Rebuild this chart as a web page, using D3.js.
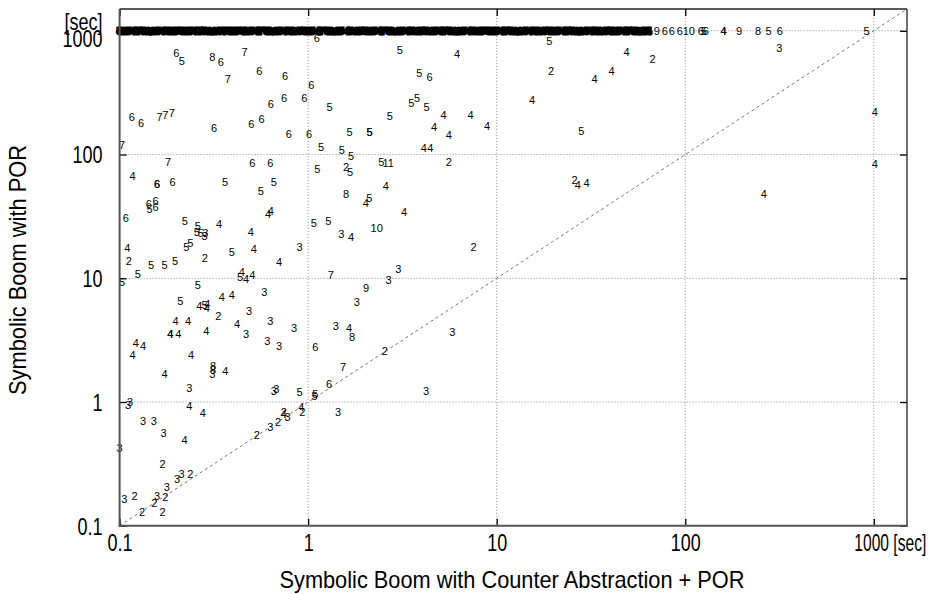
<!DOCTYPE html>
<html>
<head>
<meta charset="utf-8">
<script src="https://cdn.jsdelivr.net/npm/d3@7/dist/d3.min.js"></script>
<style>
    body { margin: 0; background: #fff; }
    svg { display: block; font-family: "Liberation Sans", Arial, Helvetica, sans-serif; }
    .pt { font-size: 11px; text-anchor: middle; fill: #000; }
    .band { font-size: 9px; font-weight: bold; text-anchor: middle; fill: #000; stroke: #000; stroke-width: 2.8px; stroke-linejoin: miter; }
    .grid { stroke: #8a8a8a; stroke-width: 1; stroke-dasharray: 1,2; }
    .diag { stroke: #777; stroke-width: 1; stroke-dasharray: 3,3; fill: none; }
    .axis text { font-size: 24px; fill: #000; }
    .axis line { stroke: #000; stroke-width: 1.3; }
    .title { font-size: 24px; fill: #000; text-anchor: middle; }
</style>
</head>
<body>
<div id="chart"></div>
<script>
// tick values / labels
var tickValues = [0.1, 1, 10, 100, 1000];
var xTickLabels = ["0.1", "1", "10", "100", "1000 [sec]"];
var yTickLabels = ["0.1", "1", "10", "100", "1000"];
var gridValues = [1, 10, 100, 1000];
var limit = 1500;      // top of both log axes
var timeoutY = 1000;   // runs that timed out

// solved instances: [counter abstraction + POR, POR, label]
var points = [
    [0.2, 656, "6"], [0.214, 571, "5"], [0.31, 609, "8"], [0.344, 561, "6"], [0.46, 668, "7"],
    [0.375, 406, "7"], [0.55, 469, "6"], [0.755, 432, "6"], [1.04, 362, "6"], [0.634, 257, "6"],
    [0.746, 284, "6"], [0.953, 286, "6"], [0.116, 202, "6"], [0.13, 179, "6"], [0.163, 202, "7"],
    [0.175, 209, "7"], [0.189, 215, "7"], [0.317, 164, "6"], [0.5, 176, "6"], [0.566, 193, "6"],
    [0.79, 147, "6"], [1.01, 147, "6"], [0.103, 119, "7"], [0.181, 87, "7"], [0.505, 86, "6"],
    [0.63, 85, "6"], [1.11, 867, "6"],
    [0.117, 67, "4"], [0.158, 58, "6"], [0.158, 58, "6"], [0.191, 59.5, "6"], [0.363, 59.5, "5"],
    [0.561, 51, "5"], [0.658, 60, "5"], [0.143, 40, "6"], [0.155, 42.3, "6"], [0.144, 36, "5"],
    [0.155, 37.4, "6"], [0.612, 32.8, "4"], [0.634, 35, "4"], [0.108, 30.5, "6"], [0.222, 29, "5"],
    [0.26, 26.6, "5"], [0.257, 23.6, "5"], [0.27, 23.4, "5"], [0.285, 23, "3"], [0.282, 22, "3"],
    [0.337, 27.4, "4"], [0.497, 23.6, "4"], [1.07, 27.8, "5"], [0.226, 17.8, "5"], [0.237, 19.1, "5"],
    [0.11, 17.6, "4"], [0.283, 14.6, "2"], [0.394, 16.3, "5"], [0.515, 17.3, "4"], [0.9, 18, "3"],
    [0.112, 13.8, "2"], [0.147, 12.9, "5"], [0.173, 12.9, "5"], [0.197, 13.8, "5"], [0.702, 13.5, "4"],
    [0.125, 10.8, "5"], [0.103, 9.3, "5"], [0.445, 11.2, "4"], [0.435, 10.2, "5"], [0.469, 9.85, "4"],
    [0.505, 10.7, "4"], [0.26, 8.8, "5"], [0.585, 7.8, "3"], [0.21, 6.55, "5"], [0.348, 7.05, "4"],
    [0.394, 7.3, "4"], [0.265, 6.0, "4"], [0.282, 6.1, "5"], [0.292, 6.2, "4"], [0.29, 5.7, "4"],
    [0.334, 5.0, "2"], [0.486, 5.4, "3"], [0.198, 4.55, "4"], [0.231, 4.55, "4"], [0.42, 4.3, "4"],
    [0.63, 4.55, "3"], [0.843, 3.96, "3"], [0.186, 3.52, "4"], [0.186, 3.52, "4"], [0.205, 3.53, "4"],
    [0.288, 3.77, "4"], [0.469, 3.54, "3"], [0.607, 3.13, "3"], [0.702, 2.83, "3"], [1.09, 2.8, "6"],
    [0.122, 3.0, "4"], [0.133, 2.83, "4"],
    [0.117, 2.4, "4"], [0.239, 2.38, "4"], [0.313, 1.95, "8"], [0.313, 1.81, "8"], [0.31, 1.68, "3"],
    [0.364, 1.79, "4"], [0.173, 1.68, "4"], [0.234, 1.3, "3"], [0.658, 1.23, "3"], [0.677, 1.27, "3"],
    [0.9, 1.2, "5"], [1.09, 1.15, "5"], [0.1135, 1.0, "3"], [0.111, 0.946, "3"], [0.234, 0.93, "4"],
    [0.276, 0.82, "4"], [0.744, 0.83, "2"], [0.74, 0.8, "4"], [0.777, 0.76, "3"], [0.919, 0.916, "4"],
    [0.93, 0.83, "2"], [0.133, 0.70, "3"], [0.152, 0.70, "3"], [0.171, 0.558, "3"], [0.221, 0.49, "4"],
    [0.63, 0.625, "3"], [0.692, 0.69, "2"], [0.535, 0.54, "2"], [0.1, 0.428, "3"], [0.169, 0.314, "2"],
    [0.202, 0.239, "3"], [0.213, 0.262, "3"], [0.237, 0.261, "2"], [0.178, 0.207, "3"], [0.106, 0.166, "3"],
    [0.12, 0.174, "2"], [0.158, 0.174, "3"], [0.153, 0.152, "2"], [0.175, 0.172, "2"], [0.1315, 0.128, "2"],
    [0.169, 0.128, "2"],
    [3.06, 697, "5"], [6.17, 644, "4"], [3.89, 457, "5"], [4.4, 420, "6"], [1.3, 242, "5"],
    [3.53, 262, "5"], [3.78, 286, "5"], [4.24, 242, "5"], [2.71, 203, "5"], [5.22, 207, "4"],
    [7.26, 208, "4"], [8.9, 169, "4"], [4.66, 166, "4"], [5.57, 143, "4"], [1.66, 151, "5"],
    [2.12, 152, "5"], [2.12, 152, "5"], [1.17, 115, "5"], [1.51, 108, "5"], [1.69, 97, "5"],
    [4.1, 113, "4"], [4.45, 113, "4"], [2.44, 87, "5"], [2.66, 85, "11"], [5.57, 87, "2"],
    [1.12, 76.6, "5"], [1.59, 79.5, "2"], [1.67, 72.5, "5"],
    [1.59, 48, "8"], [2.58, 55.6, "4"], [2.11, 44.7, "5"], [2.02, 40.3, "4"], [3.23, 34.5, "4"],
    [1.28, 29, "5"], [1.5, 22.6, "3"], [1.69, 21.5, "4"], [2.31, 25.4, "10"], [7.53, 18, "2"],
    [1.32, 10.55, "7"], [3.01, 11.8, "3"], [2.67, 9.7, "3"], [2.03, 8.4, "9"], [1.81, 6.46, "3"],
    [1.4, 4.1, "3"], [1.65, 4.0, "4"], [1.71, 3.37, "8"], [5.82, 3.66, "3"],
    [2.55, 2.58, "2"], [1.53, 1.93, "7"], [1.29, 1.4, "6"], [1.08, 1.12, "5"], [4.22, 1.23, "3"],
    [1.44, 0.83, "3"],
    [19, 829, "5"], [48.9, 672, "4"], [67, 593, "2"], [19.4, 472, "2"], [40.7, 474, "4"],
    [33, 406, "4"], [15.4, 275, "4"], [28.1, 155, "5"],
    [25.9, 62, "2"], [26.9, 56.6, "4"], [30, 58.7, "4"], [261, 48, "4"], [1014, 84, "4"],
    [1014, 219, "4"], [315, 719, "3"]
];

// timed-out runs (POR axis at the limit), densely packed on the left
var timeoutDense = [
    0.1, 0.106, 0.112, 0.118, 0.126, 0.133, 0.142, 0.15, 0.16, 0.169, 0.18, 0.19, 0.2, 0.213,
    0.225, 0.238, 0.25, 0.268, 0.28, 0.3, 0.318, 0.34, 0.355, 0.38, 0.4, 0.42, 0.45, 0.47, 0.5,
    0.53, 0.56, 0.6, 0.63, 0.67, 0.71, 0.75, 0.8, 0.84, 0.9, 0.95,
    1, 1.05, 1.12, 1.18, 1.26, 1.33, 1.42, 1.5, 1.6, 1.68, 1.8, 1.9, 2, 2.12, 2.25, 2.38, 2.5,
    2.67, 2.8, 3, 3.17, 3.35, 3.55, 3.8, 4, 4.2, 4.5, 4.75, 5, 5.3, 5.6, 6, 6.3, 6.7, 7.1, 7.5,
    8, 8.4, 9, 9.5,
    10, 10.6, 11.2, 11.8, 12.6, 13.3, 14.2, 15, 16, 16.8, 18, 19, 20, 21.2, 22.5, 23.8, 25,
    26.7, 28, 30, 31.6, 33.5, 35.5, 38, 40, 42, 44.5, 47, 50, 53, 56, 59, 62, 64
];
var timeoutDenseLabels = "5254752254525";
var timeoutSparse = [
    [70.6, "9"], [77.8, "6"], [84.8, "6"], [93.5, "6"], [104.4, "10"], [121, "6"], [125.3, "5"],
    [128.5, "6"], [159.6, "4"], [159.6, "4"], [193, "9"], [243.6, "8"], [276.7, "5"], [317.7, "6"],
    [916.6, "5"]
];

var width = 931, height = 594;
var margin = { top: 9, right: 24, bottom: 68.2, left: 119.6 };

var svg = d3.select("#chart").append("svg")
    .attr("width", width)
    .attr("height", height);

var x = d3.scaleLog().domain([0.1, limit]).range([margin.left, width - margin.right]);
var y = d3.scaleLog().domain([0.1, limit]).range([height - margin.bottom, margin.top]);

// grid
svg.selectAll("line.gx").data(gridValues).enter().append("line")
    .attr("class", "grid")
    .attr("x1", function (d) { return x(d); }).attr("x2", function (d) { return x(d); })
    .attr("y1", y(0.1)).attr("y2", y(limit));
svg.selectAll("line.gy").data(gridValues).enter().append("line")
    .attr("class", "grid")
    .attr("y1", function (d) { return y(d); }).attr("y2", function (d) { return y(d); })
    .attr("x1", x(0.1)).attr("x2", x(limit));

// y = x
svg.append("line")
    .attr("class", "diag")
    .attr("x1", x(0.1)).attr("y1", y(0.1))
    .attr("x2", x(limit)).attr("y2", y(limit));

// timeout band
svg.selectAll("text.band").data(timeoutDense).enter().append("text")
    .attr("class", "band")
    .attr("x", function (d) { return x(d); })
    .attr("y", y(timeoutY))
    .attr("dy", "0.36em")
    .text(function (d, i) { return timeoutDenseLabels[i % timeoutDenseLabels.length]; });

svg.selectAll("text.to").data(timeoutSparse).enter().append("text")
    .attr("class", "pt")
    .attr("x", function (d) { return x(d[0]); })
    .attr("y", y(timeoutY))
    .attr("dy", "0.36em")
    .text(function (d) { return d[1]; });

// solved points
svg.selectAll("text.sp").data(points).enter().append("text")
    .attr("class", "pt")
    .attr("x", function (d) { return x(d[0]); })
    .attr("y", function (d) { return y(d[1]); })
    .attr("dy", "0.36em")
    .text(function (d) { return d[2]; });

// axes (ticks inward on all four sides)
var tick = 7;
var xAxis = svg.append("g").attr("class", "axis")
    .attr("transform", "translate(0," + y(0.1) + ")")
    .call(d3.axisBottom(x).tickValues(tickValues).tickSizeInner(-tick).tickSizeOuter(0)
        .tickFormat(function (d, i) { return xTickLabels[i]; }));
svg.append("g").attr("class", "axis")
    .attr("transform", "translate(0," + y(limit) + ")")
    .call(d3.axisTop(x).tickValues(tickValues).tickSizeInner(-tick).tickSizeOuter(0).tickFormat(""));
var yAxis = svg.append("g").attr("class", "axis")
    .attr("transform", "translate(" + x(0.1) + ",0)")
    .call(d3.axisLeft(y).tickValues(tickValues).tickSizeInner(-tick).tickSizeOuter(0)
        .tickFormat(function (d, i) { return yTickLabels[i]; }));
svg.append("g").attr("class", "axis")
    .attr("transform", "translate(" + x(limit) + ",0)")
    .call(d3.axisRight(y).tickValues(tickValues).tickSizeInner(-tick).tickSizeOuter(0).tickFormat(""));

svg.selectAll(".axis .domain").remove();

// condensed tick labels
function squeeze(sel, f) {
    sel.each(function () {
        var w = this.getComputedTextLength();
        d3.select(this).attr("textLength", w * f).attr("lengthAdjust", "spacingAndGlyphs");
    });
}

xAxis.selectAll("text")
    .attr("y", 17).attr("dy", "0.35em");
squeeze(xAxis.selectAll("text"), 0.75);
xAxis.selectAll(".tick text").filter(function (d) { return d === 1000; })
    .attr("text-anchor", "start").attr("x", -20)
    .attr("textLength", 72);

yAxis.selectAll("text")
    .attr("x", -17).attr("dy", "0.35em");
yAxis.selectAll("text").filter(function (d) { return d === 1000; })
    .attr("dy", "0.64em");
squeeze(yAxis.selectAll("text"), 0.75);
yAxis.selectAll(".tick").filter(function (d) { return d === 1000; })
    .append("text")
    .attr("x", -17).attr("dy", "-0.05em")
    .attr("text-anchor", "end")
    .text("[sec]")
    .call(squeeze, 0.75);

// frame
svg.append("line").attr("x1", x(0.1)).attr("x2", x(limit)).attr("y1", y(limit)).attr("y2", y(limit))
    .attr("stroke", "#222").attr("stroke-width", 1.3);
svg.append("line").attr("x1", x(limit)).attr("x2", x(limit)).attr("y1", y(limit)).attr("y2", y(0.1))
    .attr("stroke", "#222").attr("stroke-width", 1.3);
svg.append("line").attr("x1", x(0.1)).attr("x2", x(0.1)).attr("y1", y(limit)).attr("y2", y(0.1) + 1)
    .attr("stroke", "#555").attr("stroke-width", 2);
svg.append("line").attr("x1", x(0.1) - 1).attr("x2", x(limit) + 1).attr("y1", y(0.1)).attr("y2", y(0.1))
    .attr("stroke", "#555").attr("stroke-width", 2);

// axis titles
svg.append("text")
    .attr("class", "title")
    .attr("x", 512).attr("y", 580).attr("dy", "0.35em")
    .attr("textLength", 465).attr("lengthAdjust", "spacingAndGlyphs")
    .text("Symbolic Boom with Counter Abstraction + POR");

svg.append("text")
    .attr("class", "title")
    .attr("transform", "translate(18,270) rotate(-90)")
    .attr("dy", "0.35em")
    .attr("textLength", 250).attr("lengthAdjust", "spacingAndGlyphs")
    .text("Symbolic Boom with POR");
</script>
</body>
</html>
